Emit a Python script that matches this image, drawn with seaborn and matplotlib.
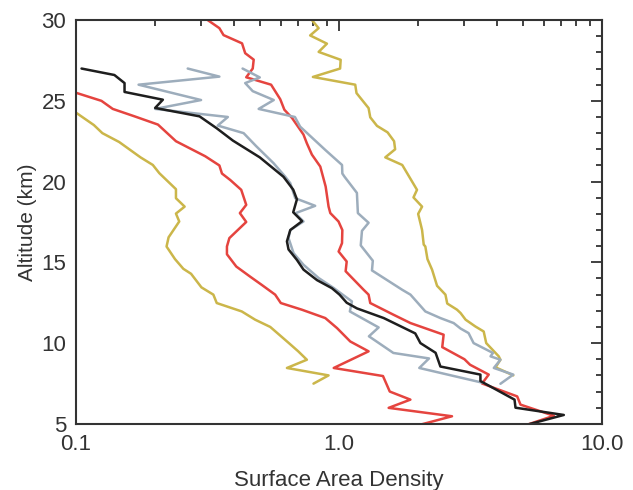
"""Surface area density profiles vs altitude"""

import matplotlib
matplotlib.use("Agg")
import matplotlib.pyplot as plt
from matplotlib.ticker import FixedLocator, MultipleLocator, LogLocator, NullFormatter
import numpy as np
import pandas as pd
import seaborn as sns

# altitude (km) / surface area density pairs, top down
black_alt = [27.0, 26.6, 26.1, 25.55, 25.07, 24.56, 24.04, 23.3, 22.54, 21.5, 20.3, 19.5,
             18.9, 18.1, 17.55, 17.0, 16.3, 15.8, 15.15, 14.55, 13.9, 13.4, 13.0, 12.5,
             12.15, 11.55, 10.6, 10.0, 9.4, 8.55, 8.05, 7.65, 6.5, 6.0, 5.55, 4.95]
black_sad = [0.105, 0.140, 0.153, 0.153, 0.214, 0.200, 0.295, 0.343, 0.395, 0.50, 0.615, 0.67,
             0.692, 0.67, 0.724, 0.653, 0.634, 0.643, 0.692, 0.733, 0.825, 0.94, 1.005, 1.07,
             1.17, 1.48, 1.95, 2.04, 2.33, 2.43, 3.45, 3.45, 4.65, 4.69, 7.16, 5.2]

gray1_alt = [27.0, 26.5, 26.0, 25.05, 24.5, 24.0, 23.47, 23.0, 22.2, 21.14, 20.3, 19.9,
             18.97, 18.5, 18.04, 17.53, 17.0, 16.5, 15.57, 14.85, 14.03, 13.41, 12.58, 11.96,
             10.97, 10.42, 9.39, 9.05, 8.46, 7.53]
gray1_sad = [0.266, 0.351, 0.173, 0.299, 0.200, 0.378, 0.346, 0.434, 0.484, 0.564, 0.625, 0.653,
             0.682, 0.812, 0.682, 0.733, 0.653, 0.643, 0.672, 0.733, 0.837, 0.955, 1.12, 1.10,
             1.415, 1.30, 1.61, 2.2, 2.02, 3.55]

gray2_alt = [27.0, 26.45, 26.1, 25.6, 25.05, 24.5, 24.0, 23.4, 21.96, 21.03, 20.5, 20.3,
             19.3, 18.05, 17.45, 16.95, 16.05, 15.1, 14.5, 13.3, 13.0, 11.96, 11.55, 11.24,
             10.9, 10.62, 10.0, 9.39, 9.18, 8.97, 8.46, 8.05, 7.48]
gray2_sad = [0.43, 0.50, 0.44, 0.47, 0.565, 0.495, 0.68, 0.712, 0.887, 1.027, 1.03, 1.05,
             1.17, 1.18, 1.296, 1.223, 1.21, 1.345, 1.335, 1.74, 1.87, 2.13, 2.43, 2.73,
             2.90, 3.11, 3.25, 3.85, 3.77, 4.11, 3.88, 4.6, 4.11]

red1_alt = [25.5, 25.0, 24.5, 24.04, 23.53, 22.5, 21.57, 21.0, 20.5, 20.1, 19.49, 18.56,
            18.05, 17.5, 16.5, 15.98, 15.5, 14.74, 14.12, 13.6, 13.0, 12.48, 12.07, 11.55,
            10.93, 10.1, 9.49, 8.46, 7.96, 7.0, 6.5, 5.99, 5.47, 4.95]
red1_sad = [0.100, 0.125, 0.138, 0.167, 0.205, 0.240, 0.31, 0.351, 0.359, 0.386, 0.425, 0.444,
            0.42, 0.444, 0.383, 0.375, 0.375, 0.407, 0.459, 0.509, 0.572, 0.601, 0.722, 0.887,
            0.983, 1.104, 1.296, 0.955, 1.47, 1.56, 1.869, 1.545, 2.69, 2.04]

red2_alt = [30.0, 29.5, 29.07, 28.56, 27.95, 27.55, 27.0, 26.46, 26.0, 25.1, 24.45, 23.94,
            22.91, 22.37, 21.67, 20.93, 19.69, 18.45, 18.05, 17.53, 17.0, 16.19, 15.67, 15.05,
            14.45, 13.3, 13.0, 12.48, 11.76, 11.24, 10.52, 9.75, 9.0, 8.66, 8.05, 7.5,
            6.7, 6.19, 5.5, 4.95]
red2_sad = [0.317, 0.351, 0.364, 0.428, 0.440, 0.474, 0.470, 0.444, 0.552, 0.598, 0.62, 0.663,
            0.733, 0.755, 0.789, 0.849, 0.89, 0.913, 0.927, 0.996, 1.03, 1.027, 0.997, 1.07,
            1.06, 1.241, 1.296, 1.315, 1.61, 1.87, 2.50, 2.47, 3.0, 3.15, 3.71, 3.50,
            4.76, 4.90, 6.56, 5.2]

yellow1_alt = [24.27, 23.5, 23.0, 22.45, 21.5, 21.03, 20.52, 19.53, 18.97, 18.45, 18.02, 17.53,
               16.55, 15.98, 15.2, 14.6, 14.29, 13.45, 13.0, 12.48, 11.96, 11.45, 11.0, 10.0,
               9.49, 8.97, 8.46, 8.0, 7.49]
yellow1_sad = [0.100, 0.117, 0.126, 0.146, 0.176, 0.196, 0.2075, 0.240, 0.240, 0.259, 0.240, 0.247,
               0.225, 0.221, 0.238, 0.256, 0.274, 0.30, 0.333, 0.343, 0.427, 0.48, 0.548, 0.645,
               0.70, 0.755, 0.634, 0.913, 0.80]

yellow2_alt = [30.0, 29.5, 29.05, 28.54, 28.03, 27.54, 27.0, 26.48, 26.0, 25.48, 24.55, 23.98,
               23.45, 23.05, 22.5, 22.0, 21.5, 21.03, 19.49, 19.02, 18.45, 18.0, 17.43, 17.0,
               16.1, 15.98, 15.2, 14.54, 13.55, 13.0, 12.45, 12.07, 11.86, 11.45, 11.03, 10.72,
               10.0, 9.18, 8.97, 8.5, 8.0]
yellow2_sad = [0.789, 0.837, 0.777, 0.90, 0.837, 1.015, 1.01, 0.796, 1.153, 1.166, 1.296, 1.315,
               1.395, 1.53, 1.62, 1.635, 1.50, 1.74, 1.98, 1.92, 2.07, 2.0, 2.04, 2.07,
               2.10, 2.13, 2.17, 2.26, 2.36, 2.54, 2.58, 2.81, 2.9, 3.03, 3.30, 3.55,
               3.63, 4.05, 4.11, 3.94, 4.6]

profiles = {
    "yellow1": (yellow1_alt, yellow1_sad),
    "yellow2": (yellow2_alt, yellow2_sad),
    "red1": (red1_alt, red1_sad),
    "red2": (red2_alt, red2_sad),
    "gray1": (gray1_alt, gray1_sad),
    "gray2": (gray2_alt, gray2_sad),
    "black": (black_alt, black_sad),
}
palette = {
    "yellow1": "#cbb64a", "yellow2": "#cbb64a",
    "red1": "#e5443f", "red2": "#e5443f",
    "gray1": "#9dadbc", "gray2": "#9dadbc",
    "black": "#1e1e1e",
}

frames = []
for name, (alt, sad) in profiles.items():
    frames.append(pd.DataFrame({"alt": alt, "sad": sad, "profile": name}))
df = pd.concat(frames, ignore_index=True)

sns.set_style("white")
plt.rcParams["font.family"] = ["Liberation Sans", "DejaVu Sans"]
ink = "#333333"

fig = plt.figure(figsize=(6.33, 4.90), dpi=100)
ax = fig.add_axes([0.120, 0.135, 0.831, 0.824])

sns.lineplot(data=df, x="sad", y="alt", hue="profile", palette=palette,
             sort=False, estimator=None, legend=False, linewidth=1.8, ax=ax)

ax.set_xscale("log")
ax.set_xlim(0.1, 10)
ax.set_ylim(5, 30)

ax.xaxis.set_major_locator(FixedLocator([0.1, 1.0, 10.0]))
ax.set_xticklabels(["0.1", "1.0", "10.0"])
ax.xaxis.set_minor_locator(LogLocator(base=10, subs=np.arange(2, 10)))
ax.xaxis.set_minor_formatter(NullFormatter())
ax.yaxis.set_major_locator(MultipleLocator(5))
ax.yaxis.set_minor_locator(MultipleLocator(1))

ax.tick_params(which="both", direction="in", top=True, right=True, colors=ink,
               labelsize=16, width=1.3)
ax.tick_params(which="major", length=8, pad=7)
ax.tick_params(which="minor", length=4)
for sp in ax.spines.values():
    sp.set_color(ink)
    sp.set_linewidth(1.5)

ax.set_xlabel("Surface Area Density", fontsize=16, color=ink, labelpad=11)
ax.set_ylabel("Altitude (km)", fontsize=15, color=ink, labelpad=3)

fig.savefig("out.png", dpi=100)
